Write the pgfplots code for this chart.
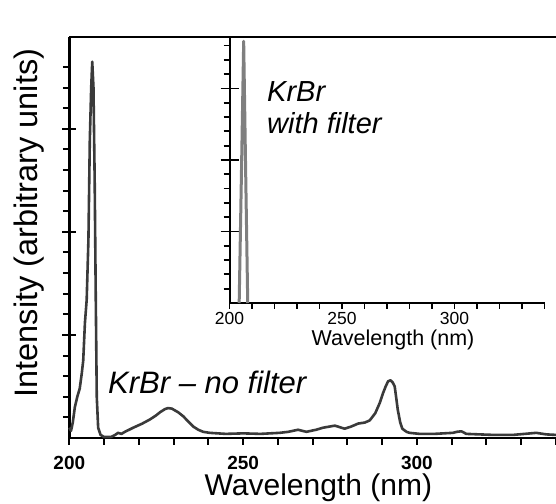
\documentclass[border=0pt]{standalone}
\usepackage{fontspec}
\setmainfont{Liberation Sans}
\usepackage{graphicx}
\usepackage{pgfplots}
\pgfplotsset{compat=1.18}
\definecolor{curve}{HTML}{3A3A3A}
\definecolor{insetc}{HTML}{7F7F7F}
\begin{document}
\begin{tikzpicture}
\useasboundingbox (0,0) rectangle (556pt,503pt);
\begin{axis}[
  at={(69.3pt,65pt)}, anchor=south west,
  scale only axis, width=486.7pt, height=401pt,
  xmin=200, xmax=340, ymin=0, ymax=3.89,
  axis lines=left,
  axis line style={-, line width=2.4pt, black},
  xtick={200,250,300},
  xticklabels={\textbf{200},\textbf{250},\textbf{300}},
  minor xtick={200,210,...,340},
  ytick={1,2,3}, yticklabels={},
  minor ytick={0.2,0.4,0.6,0.8,1.2,1.4,1.6,1.8,2.2,2.4,2.6,2.8,3.2,3.4,3.6},
  tick style={line width=2pt, black},
  tick align=outside,
  major tick length=14pt, minor tick length=6.5pt,
  every major y tick/.append style={xshift=7pt},
  every major x tick/.append style={draw=none},
  xticklabel style={font=\fontsize{19}{19}\selectfont, anchor=base, yshift=-17pt},
  xlabel={Wavelength (nm)},
  xlabel style={font=\fontsize{30}{30}\selectfont, at={(axis description cs:0.5118,-0.1434)}, anchor=base},
  ylabel={Intensity (arbitrary units)},
  ylabel style={font=\fontsize{32.5}{33}\selectfont, at={(axis description cs:-0.066,0.536)}, anchor=base, rotate=0},
  clip=false,
]
\addplot[color=curve, line width=2.6pt, line join=round] coordinates {
(200,0.10)(200.5,0.07)(201,0.15)(201.6,0.30)(202.3,0.40)(203,0.48)(203.6,0.63)(204,0.75)(204.5,1.12)(205,1.34)(205.5,1.92)(205.9,2.89)(206.3,3.4)(206.6,3.65)(206.95,3.4)(207.3,2.5)(207.6,1.4)(207.9,0.4)(208.3,0.1)(209,0.03)(210,0.01)(212,0.01)(213.2,0.03)(214,0.05)(215,0.04)(216,0.06)(218.4,0.10)(221,0.14)(223.2,0.18)(225,0.22)(226.1,0.25)(227.5,0.28)(228.4,0.29)(229.5,0.285)(231.3,0.25)(232.8,0.21)(234.2,0.16)(235.7,0.11)(237.1,0.08)(238.5,0.06)(240.4,0.05)(245,0.04)(250,0.045)(255,0.04)(260.5,0.05)(263,0.06)(265.8,0.08)(268.2,0.06)(271,0.08)(273,0.10)(276.4,0.12)(279.2,0.09)(281,0.11)(283.1,0.14)(285,0.15)(286.4,0.17)(288,0.24)(289.3,0.34)(290.3,0.44)(291,0.50)(291.7,0.55)(292.4,0.56)(293,0.54)(293.6,0.50)(294,0.40)(294.5,0.27)(295.2,0.15)(295.8,0.09)(297,0.06)(297.9,0.05)(300.8,0.04)(305,0.04)(310.3,0.05)(311.5,0.06)(312.8,0.065)(314.2,0.04)(318,0.035)(322,0.03)(327.6,0.03)(331,0.04)(334.3,0.05)(337.2,0.035)(340,0.03)
};
\draw[line width=2.4pt, black] (rel axis cs:0,1) -- (rel axis cs:1,1);
\end{axis}
\begin{axis}[
  at={(229.5pt,200pt)}, anchor=south west,
  scale only axis, width=315pt, height=265pt,
  xmin=200, xmax=340, ymin=0, ymax=3.706,
  axis lines=left,
  axis line style={-, line width=2pt, black},
  xtick={200,250,300},
  minor xtick={200,210,...,340},
  ytick={1,2,3}, yticklabels={},
  minor ytick={0.2,0.4,0.6,0.8,1.2,1.4,1.6,1.8,2.2,2.4,2.6,2.8,3.2,3.4,3.6},
  tick style={line width=1.8pt, black},
  tick align=outside,
  major tick length=18pt, minor tick length=6pt,
  every major y tick/.append style={xshift=9pt},
  every major x tick/.append style={draw=none},
  xticklabel style={font=\fontsize{17.5}{18}\selectfont, anchor=base, yshift=-3pt},
  /pgf/number format/assume math mode=true,
  xlabel={Wavelength (nm)},
  xlabel style={font=\fontsize{21.5}{22}\selectfont, at={(axis description cs:0.519,-0.1585)}, anchor=base},
  clip=false,
]
\addplot[color=insetc, line width=3pt, line join=round] coordinates {
(204.3,0)(205.3,1.8)(206.3,3.66)(207.2,1.8)(208.1,0)
};
\end{axis}
\node[anchor=base west, inner sep=0pt, font=\fontsize{29}{29}\selectfont\itshape] at (267pt,401pt) {KrBr};
\node[anchor=base west, inner sep=0pt, font=\fontsize{29}{29}\selectfont\itshape] at (267pt,369pt) {with filter};
\node[anchor=base west, inner sep=0pt, font=\fontsize{31}{31}\selectfont\itshape] at (108pt,109pt) {KrBr \textendash\ no filter};
\end{tikzpicture}
\end{document}
